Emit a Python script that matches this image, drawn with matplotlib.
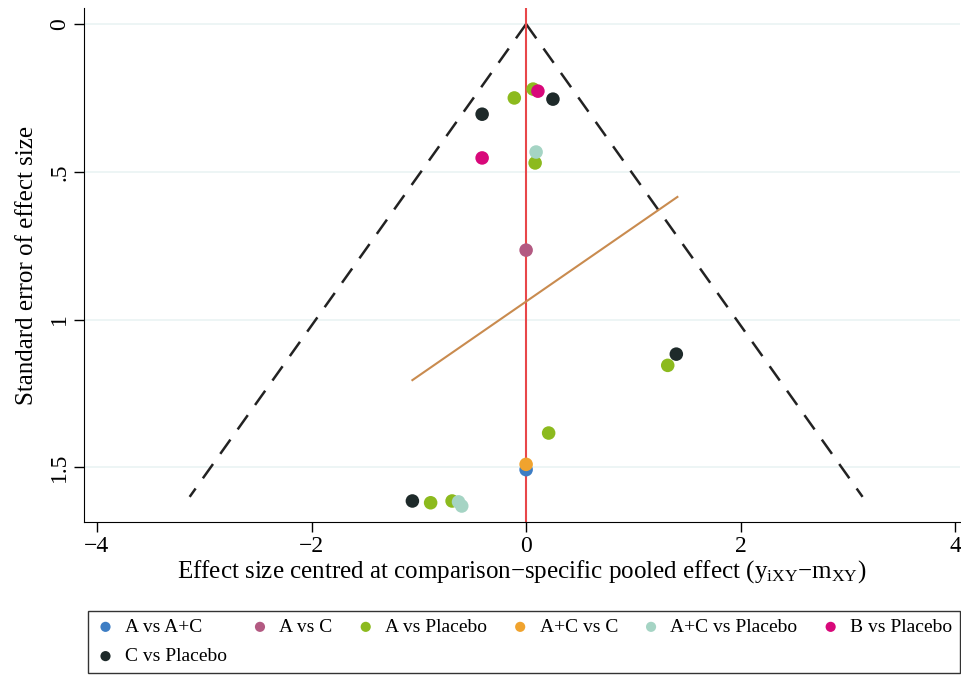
import matplotlib.pyplot as plt
import numpy as np

# comparison-adjusted funnel plot data
groups = ['A vs A+C', 'A vs C', 'A vs Placebo', 'A+C vs C',
          'A+C vs Placebo', 'B vs Placebo', 'C vs Placebo']
colors = ['#3d7dc4', '#b35a82', '#8cba1e', '#f0a32e',
          '#a5d4c4', '#d8087a', '#1e2a2a']

eff_a_ac = [0.0]
se_a_ac = [1.508]
eff_a_c = [0.0]
se_a_c = [0.765]
eff_a_pl = [0.065, -0.11, 0.084, 1.32, 0.21, -0.89, -0.69]
se_a_pl = [0.220, 0.250, 0.470, 1.155, 1.384, 1.620, 1.614]
eff_ac_c = [0.0]
se_ac_c = [1.490]
eff_ac_pl = [0.093, -0.63, -0.60]
se_ac_pl = [0.433, 1.617, 1.631]
eff_b_pl = [0.11, -0.41]
se_b_pl = [0.227, 0.453]
eff_c_pl = [0.25, -0.41, 1.40, -1.06]
se_c_pl = [0.254, 0.305, 1.117, 1.614]

effects = [eff_a_ac, eff_a_c, eff_a_pl, eff_ac_c, eff_ac_pl, eff_b_pl, eff_c_pl]
ses = [se_a_ac, se_a_c, se_a_pl, se_ac_c, se_ac_pl, se_b_pl, se_c_pl]

# fitted line endpoints (effect, se)
fit_eff = [-1.06, 1.41]
fit_se = [1.205, 0.585]
se_max = 1.6

plt.rcParams['font.family'] = ['Liberation Serif', 'DejaVu Serif']
plt.rcParams['mathtext.fontset'] = 'custom'
plt.rcParams['mathtext.rm'] = 'Liberation Serif'
plt.rcParams['mathtext.it'] = 'Liberation Serif'

fig = plt.figure(figsize=(9.61, 6.77), dpi=100)
ax = fig.add_axes([0.0875, 0.229, 0.911, 0.759])

for t in [0, 0.5, 1, 1.5]:
    ax.axhline(t, color='#eaf3f3', lw=1.2, zorder=0)

se_line = np.array([0, se_max])
ax.plot(-1.96 * se_line, se_line, color='#222222', lw=1.8, dashes=(7, 5), zorder=1)
ax.plot(1.96 * se_line, se_line, color='#222222', lw=1.8, dashes=(7, 5), zorder=1)
ax.axvline(0, color='#e8474a', lw=1.5, zorder=1)
ax.plot(fit_eff, fit_se, color='#c98b4f', lw=1.5, zorder=1)

handles = []
for g, c, x, y in zip(groups, colors, effects, ses):
    h = ax.scatter(x, y, s=95, color=c, edgecolors='none', label=g, zorder=3)
    handles.append(h)

ax.set_xlim(-4.12, 4.04)
ax.set_ylim(1.685, -0.054)
ax.set_xticks([-4, -2, 0, 2, 4])
ax.set_xticklabels(['\u22124', '\u22122', '0', '2', '4'])
ax.set_yticks([0, 0.5, 1, 1.5])
ax.set_yticklabels(['0', '.5', '1', '1.5'], rotation=90, va='center')
ax.tick_params(labelsize=17, length=7, width=1, direction='out', pad=3)
for s in ['top', 'right']:
    ax.spines[s].set_visible(False)

ax.set_xlabel('Effect size centred at comparison\u2212specific pooled effect '
              '(y$_{\\mathrm{iXY}}$\u2212m$_{\\mathrm{XY}}$)', fontsize=18, labelpad=1)
ax.set_ylabel('Standard error of effect size', fontsize=18, labelpad=8)

# reorder so that matplotlib's column fill gives row-major layout
order = [0, 6, 1, 2, 3, 4, 5]
leg = fig.legend([handles[i] for i in order], [groups[i] for i in order],
                 ncol=6, loc='lower left',
                 bbox_to_anchor=(88 / 961, 4 / 677, 872 / 961, 68 / 677),
                 mode='expand', fontsize=14, frameon=True, fancybox=False,
                 edgecolor='black', handlelength=1.0, handletextpad=0.5,
                 markerscale=0.75, borderaxespad=0, labelspacing=0.6,
                 borderpad=0.4)
leg.get_frame().set_linewidth(1.0)

fig.savefig('out.png', dpi=100)
